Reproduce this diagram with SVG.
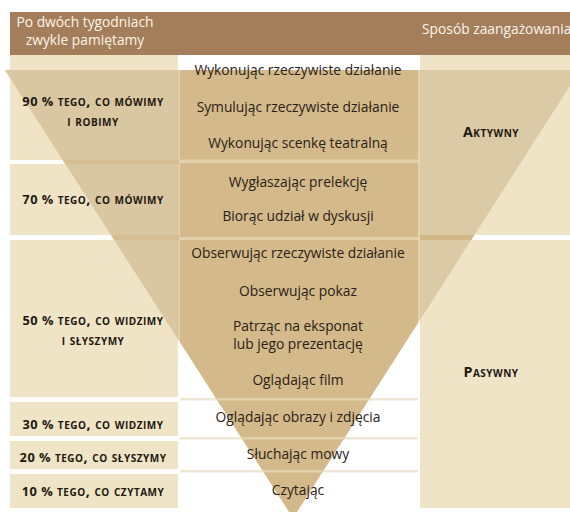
<svg xmlns="http://www.w3.org/2000/svg" width="570" height="512" viewBox="0 0 570 512">
<style>
.hdr{font-family:"Open Sans","Liberation Sans",sans-serif;font-size:13.8px;fill:#FBF6EA}
.mid{font-family:"Open Sans","Liberation Sans",sans-serif;font-size:13.8px;fill:#2A2016;text-anchor:middle}
.lbl{font-family:"Open Sans","Liberation Sans",sans-serif;font-size:12.8px;font-weight:bold;letter-spacing:0.5px;fill:#1E1710;text-anchor:middle}
.sc{font-variant:small-caps;font-size:14.3px}
.cream{fill:#EFE5C6}
.sepw{fill:#EEE7D5}
</style>
<defs>
<polygon id="tri" points="5,70 580,70 293,518"/>
<clipPath id="cl"><rect x="0" y="55" width="179" height="457"/></clipPath>
<clipPath id="cm"><rect x="180" y="55" width="238" height="457"/></clipPath>
<clipPath id="cr"><rect x="420" y="55" width="150" height="457"/></clipPath>
<clipPath id="ct"><use href="#tri"/></clipPath>
</defs>
<rect width="570" height="512" fill="#FFFFFF"/>
<g id="header">
<rect x="10" y="12" width="560" height="43" fill="#A47D5A"/>
<text class="hdr" text-anchor="middle"><tspan x="85" y="27">Po dwóch tygodniach</tspan><tspan x="85" dy="18">zwykle pamiętamy</tspan></text>
<text class="hdr" x="422" y="34">Sposób zaangażowania</text>
</g>
<g id="background">
<rect class="cream" x="10" y="55" width="168" height="105"/>
<rect class="cream" x="10" y="164" width="168" height="71"/>
<rect class="cream" x="10" y="240" width="168" height="157"/>
<rect class="cream" x="10" y="402" width="168" height="34"/>
<rect class="cream" x="10" y="441" width="168" height="28"/>
<rect class="cream" x="10" y="474" width="168" height="34"/>
<rect class="cream" x="420" y="55" width="150" height="180"/>
<rect class="cream" x="420" y="240" width="150" height="268"/>
<rect class="sepw" x="180" y="398" width="238" height="2.5"/>
<rect class="sepw" x="180" y="437" width="238" height="2.5"/>
<rect class="sepw" x="180" y="470" width="238" height="2.5"/>
</g>
<g id="triangle">
<g clip-path="url(#ct)">
<rect x="0" y="70" width="570" height="442" fill="#E4D3AE"/>
</g>
<use href="#tri" fill="#D9C7A2" clip-path="url(#cl)"/>
<use href="#tri" fill="#D4BA8A" clip-path="url(#cm)"/>
<use href="#tri" fill="#DACAA6" clip-path="url(#cr)"/>
<g clip-path="url(#ct)">
<rect x="0" y="160" width="179" height="4" fill="#D5BE92"/>
<rect x="0" y="235" width="179" height="5" fill="#D5BE92"/>
<rect x="0" y="397" width="179" height="5" fill="#D5BE92"/>
<rect x="180" y="159.5" width="238" height="3.5" fill="#E2D1AC"/>
<rect x="180" y="237" width="238" height="3" fill="#E2D1AC"/>
<rect x="180" y="398" width="238" height="2.5" fill="#E2D1AC"/>
<rect x="180" y="437" width="238" height="2.5" fill="#E2D1AC"/>
<rect x="180" y="470" width="238" height="2.5" fill="#E2D1AC"/>
<rect x="420" y="235" width="150" height="5" fill="#D2B886"/>
</g>
</g>
<g id="row90">
<text class="lbl" x="93" y="106">90 % <tspan class="sc">tego, co mówimy</tspan></text>
<text class="lbl" x="93" y="125.5"><tspan class="sc">i robimy</tspan></text>
<text class="mid" x="298" y="75">Wykonując rzeczywiste działanie</text>
<text class="mid" x="298" y="112">Symulując rzeczywiste działanie</text>
<text class="mid" x="298" y="148">Wykonując scenkę teatralną</text>
</g>
<g id="row70">
<text class="lbl" x="93" y="204">70 % <tspan class="sc">tego, co mówimy</tspan></text>
<text class="mid" x="298" y="187">Wygłaszając prelekcję</text>
<text class="mid" x="298" y="221">Biorąc udział w dyskusji</text>
</g>
<g id="row50">
<text class="lbl" x="93" y="325">50 % <tspan class="sc">tego, co widzimy</tspan></text>
<text class="lbl" x="93" y="344.5"><tspan class="sc">i słyszymy</tspan></text>
<text class="mid" x="298" y="258">Obserwując rzeczywiste działanie</text>
<text class="mid" x="298" y="296">Obserwując pokaz</text>
<text class="mid"><tspan x="298" y="331">Patrząc na eksponat</tspan><tspan x="298" dy="18">lub jego prezentację</tspan></text>
<text class="mid" x="298" y="385">Oglądając film</text>
</g>
<g id="row30">
<text class="lbl" x="93" y="429">30 % <tspan class="sc">tego, co widzimy</tspan></text>
<text class="mid" x="298" y="422">Oglądając obrazy i zdjęcia</text>
</g>
<g id="row20">
<text class="lbl" x="93" y="462">20 % <tspan class="sc">tego, co słyszymy</tspan></text>
<text class="mid" x="298" y="459">Słuchając mowy</text>
</g>
<g id="row10">
<text class="lbl" x="93" y="496">10 % <tspan class="sc">tego, co czytamy</tspan></text>
<text class="mid" x="298" y="495">Czytając</text>
</g>
<g id="mode">
<text class="lbl" x="491" y="137"><tspan class="sc">Aktywny</tspan></text>
<text class="lbl" x="491" y="377"><tspan class="sc">Pasywny</tspan></text>
</g>
</svg>
